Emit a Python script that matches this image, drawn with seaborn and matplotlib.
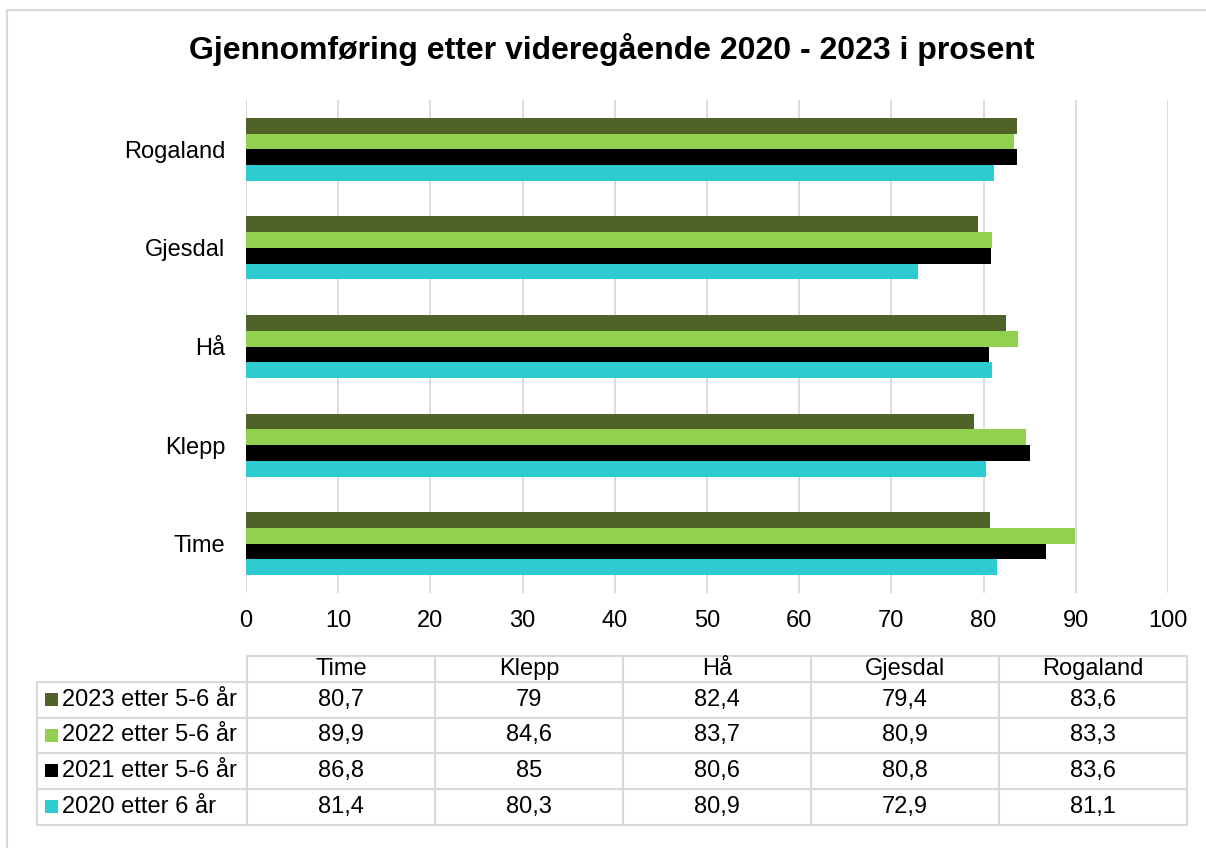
import matplotlib
matplotlib.use('Agg')
import matplotlib.pyplot as plt
from matplotlib.patches import Rectangle
import seaborn as sns
import pandas as pd

kommuner = ['Time', 'Klepp', 'Hå', 'Gjesdal', 'Rogaland']
serier = ['2023 etter 5-6 år', '2022 etter 5-6 år', '2021 etter 5-6 år', '2020 etter 6 år']
v2023 = [80.7, 79, 82.4, 79.4, 83.6]
v2022 = [89.9, 84.6, 83.7, 80.9, 83.3]
v2021 = [86.8, 85, 80.6, 80.8, 83.6]
v2020 = [81.4, 80.3, 80.9, 72.9, 81.1]
xticks = [0, 10, 20, 30, 40, 50, 60, 70, 80, 90, 100]
tittel = 'Gjennomføring etter videregående 2020 - 2023 i prosent'

farger = ['#4F6228', '#92D050', '#000000', '#2ECBD1']
grid_col = '#D9D9D9'

verdier = [v2023, v2022, v2021, v2020]
rows = []
for s, vals in zip(serier, verdier):
    for k, v in zip(kommuner, vals):
        rows.append({'kommune': k, 'serie': s, 'verdi': v})
df = pd.DataFrame(rows)

sns.set_theme(style='white')
plt.rcParams['font.family'] = ['Liberation Sans', 'DejaVu Sans']
plt.rcParams['text.color'] = 'black'
plt.rcParams['xtick.color'] = 'black'
plt.rcParams['ytick.color'] = 'black'

W, H = 1206, 848
fs = 17
fig = plt.figure(figsize=(W / 100, H / 100), dpi=100)

def px_axes(x0, y0, x1, y1):
    return fig.add_axes([x0 / W, 1 - y1 / H, (x1 - x0) / W, (y1 - y0) / H])

# outer frame
fig.patches.append(Rectangle((7 / W, -0.1), 1.2, 1 - 10 / H + 0.1, transform=fig.transFigure,
                             fill=False, edgecolor=grid_col, lw=1.5))

fig.text(612 / W, 1 - 50 / H, tittel, ha='center', va='center', fontsize=23, fontweight='bold')

ax = px_axes(246, 100, 1168, 593)
sns.barplot(data=df, y='kommune', x='verdi', hue='serie', order=kommuner[::-1], hue_order=serier,
            palette=farger, width=0.64, orient='h', linewidth=0, saturation=1, legend=False, ax=ax)
ax.set_xlim(0, 100)
ax.set_xticks(xticks)
ax.set_xticklabels([str(t) for t in xticks], fontsize=fs)
ax.tick_params(axis='y', labelsize=fs, length=0, pad=15)
ax.tick_params(axis='x', length=0, pad=12)
ax.set_xlabel('')
ax.set_ylabel('')
for sp in ax.spines.values():
    sp.set_visible(False)
ax.set_axisbelow(True)
ax.xaxis.grid(True, color=grid_col, lw=1.3)
ax.yaxis.grid(False)

# data table under chart
tab = px_axes(37, 656, 1187, 825)
ncol = len(kommuner)
lab_w = (247 - 37) / 188
tab.set_xlim(-lab_w, ncol)
row_edges = [0, 26, 61.7, 97, 132.5, 169]
tab.set_ylim(row_edges[-1], 0)
tab.axis('off')
lk = dict(color=grid_col, lw=1.5, clip_on=False)

# horizontal lines
tab.plot([0, ncol], [row_edges[0]] * 2, **lk)
for y in row_edges[1:]:
    tab.plot([-lab_w, ncol], [y, y], **lk)
# vertical lines
tab.plot([-lab_w, -lab_w], [row_edges[1], row_edges[-1]], **lk)
for c in range(ncol + 1):
    tab.plot([c, c], [row_edges[0], row_edges[-1]], **lk)

for c, k in enumerate(kommuner):
    tab.text(c + 0.5, (row_edges[0] + row_edges[1]) / 2, k, ha='center', va='center', fontsize=fs)

for r, (s, vals) in enumerate(zip(serier, verdier)):
    yc = (row_edges[r + 1] + row_edges[r + 2]) / 2
    tab.add_patch(Rectangle((-lab_w + 0.04, yc - 6.5), 13 / 188, 13, color=farger[r], lw=0))
    tab.text(-lab_w + 0.135, yc, s, ha='left', va='center', fontsize=fs)
    for c, v in enumerate(vals):
        tab.text(c + 0.5, yc, f'{v:g}'.replace('.', ','), ha='center', va='center', fontsize=fs)

fig.savefig('out.png', dpi=100)
